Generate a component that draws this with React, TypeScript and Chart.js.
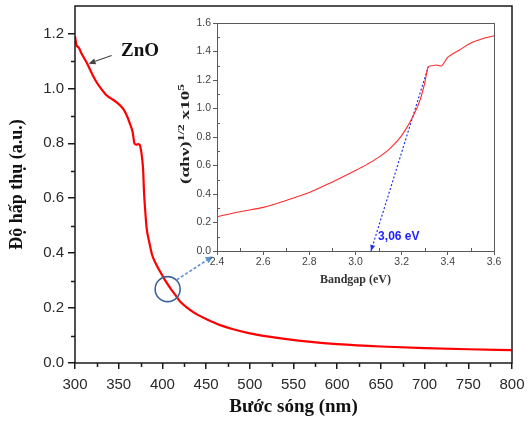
import React, { useEffect, useRef } from "react";
import { Chart, registerables } from "chart.js";

Chart.register(...registerables);

// ---------- data ----------
const wavelengthNm = [
  300, 302, 304, 307, 313, 320, 324, 330, 336, 342, 347, 352, 355, 359, 363, 366, 368,
  370, 372, 374, 375.5, 377, 378, 379, 380, 382, 385, 388, 392, 397, 403, 409, 415, 420,
  430, 440, 450, 466, 480, 500, 520, 540, 570, 600, 650, 700, 750, 800,
];
const absorbance = [
  1.19, 1.155, 1.15, 1.13, 1.096, 1.05, 1.026, 0.998, 0.975, 0.962, 0.951, 0.937, 0.926,
  0.903, 0.87, 0.84, 0.8, 0.795, 0.797, 0.795, 0.775, 0.74, 0.7, 0.62, 0.57, 0.49, 0.44,
  0.396, 0.365, 0.335, 0.302, 0.273, 0.247, 0.225, 0.197, 0.176, 0.16, 0.138, 0.124,
  0.108, 0.097, 0.088, 0.077, 0.069, 0.06, 0.054, 0.05, 0.047,
];

const photonEnergyEv = [
  2.4, 2.5, 2.6, 2.7, 2.8, 2.9, 3.0, 3.05, 3.1, 3.15, 3.2, 3.25, 3.28, 3.3, 3.315, 3.33,
  3.35, 3.37, 3.4, 3.45, 3.5, 3.55, 3.6,
];
const taucValue = [
  0.24, 0.276, 0.306, 0.355, 0.41, 0.485, 0.565, 0.608, 0.657, 0.72, 0.81, 0.947, 1.06,
  1.18, 1.29, 1.3, 1.305, 1.298, 1.36, 1.41, 1.46, 1.49, 1.51,
];
const fitLineEv = [3.067, 3.316];
const fitLineValue = [0, 1.296];

const mainXTicks = [300, 350, 400, 450, 500, 550, 600, 650, 700, 750, 800];
const mainXMinor = [325, 375, 425, 475, 525, 575, 625, 675, 725, 775];
const mainYTicks = [0, 0.2, 0.4, 0.6, 0.8, 1.0, 1.2];
const mainYMinor = [0.1, 0.3, 0.5, 0.7, 0.9, 1.1];
const insetXTicks = [2.4, 2.6, 2.8, 3.0, 3.2, 3.4, 3.6];
const insetXMinor = [2.5, 2.7, 2.9, 3.1, 3.3, 3.5];
const insetYTicks = [0, 0.2, 0.4, 0.6, 0.8, 1.0, 1.2, 1.4, 1.6];
const insetYMinor = [0.1, 0.3, 0.5, 0.7, 0.9, 1.1, 1.3, 1.5];

const MAIN_X_TITLE = "Bước sóng (nm)";
const MAIN_Y_TITLE = "Độ hấp thụ (a.u.)";
const INSET_X_TITLE = "Bandgap (eV)";
const INSET_Y_TITLE_PARTS = [
  { t: "(αhν)", sup: false },
  { t: "1/2", sup: true },
  { t: " x10", sup: false },
  { t: "5", sup: true },
];
const SAMPLE_LABEL = "ZnO";
const GAP_LABEL = "3,06 eV";

// annotation anchors (data units)
const znoLabelAt = [352.6, 1.117];
const znoArrowFrom = [342, 1.12];
const znoArrowTo = [315.5, 1.09];
const circleAt = [406, 0.269];
const zoomArrowFrom = [416.5, 0.303];
const zoomArrowTo = [457.5, 0.388];
const gapLabelAt = [3.098, 0.098];

const SERIF = '"Liberation Serif", "Times New Roman", serif';
const SANS = '"Liberation Sans", Arial, sans-serif';

function drawArrow(
  ctx: CanvasRenderingContext2D,
  x0: number, y0: number, x1: number, y1: number,
  color: string, width: number, dash: number[], headLen: number, headW: number
) {
  const dx = x1 - x0, dy = y1 - y0;
  const len = Math.hypot(dx, dy);
  const ux = dx / len, uy = dy / len;
  const bx = x1 - ux * headLen, by = y1 - uy * headLen;
  ctx.save();
  ctx.strokeStyle = color;
  ctx.fillStyle = color;
  ctx.lineWidth = width;
  ctx.setLineDash(dash);
  ctx.beginPath();
  ctx.moveTo(x0, y0);
  ctx.lineTo(bx, by);
  ctx.stroke();
  ctx.setLineDash([]);
  ctx.beginPath();
  ctx.moveTo(x1, y1);
  ctx.lineTo(bx - uy * headW, by + ux * headW);
  ctx.lineTo(bx + uy * headW, by - ux * headW);
  ctx.closePath();
  ctx.fill();
  ctx.restore();
}

function minorTicks(chart: any, xs: number[], ys: number[], len: number, inward: boolean, color: string, width: number) {
  const { ctx, chartArea: a, scales } = chart;
  ctx.save();
  ctx.strokeStyle = color;
  ctx.lineWidth = width;
  ctx.beginPath();
  xs.forEach((v) => {
    const px = Math.round(scales.x.getPixelForValue(v)) + 0.5;
    ctx.moveTo(px, a.bottom);
    ctx.lineTo(px, inward ? a.bottom - len : a.bottom + len);
  });
  ys.forEach((v) => {
    const py = Math.round(scales.y.getPixelForValue(v)) + 0.5;
    ctx.moveTo(a.left, py);
    ctx.lineTo(inward ? a.left + len : a.left - len, py);
  });
  ctx.stroke();
  ctx.restore();
}

const mainDecor = {
  id: "mainDecor",
  afterDraw(chart: any) {
    const { ctx, chartArea: a, scales } = chart;
    const X = (v: number) => scales.x.getPixelForValue(v);
    const Y = (v: number) => scales.y.getPixelForValue(v);
    ctx.save();
    ctx.strokeStyle = "#1a1a1a";
    ctx.lineWidth = 1.5;
    ctx.strokeRect(a.left, a.top, a.right - a.left, a.bottom - a.top);
    ctx.restore();
    minorTicks(chart, mainXMinor, mainYMinor, 4, false, "#1a1a1a", 1.5);

    ctx.save();
    ctx.font = `bold 19px ${SERIF}`;
    ctx.fillStyle = "#111";
    ctx.textAlign = "left";
    ctx.textBaseline = "alphabetic";
    ctx.fillText(SAMPLE_LABEL, X(znoLabelAt[0]), Y(znoLabelAt[1]));
    ctx.restore();
    drawArrow(ctx, X(znoArrowFrom[0]), Y(znoArrowFrom[1]), X(znoArrowTo[0]), Y(znoArrowTo[1]), "#444", 1.1, [], 7, 3);

    ctx.save();
    ctx.strokeStyle = "#3d6293";
    ctx.lineWidth = 1.6;
    ctx.beginPath();
    ctx.arc(X(circleAt[0]), Y(circleAt[1]), 12.5, 0, Math.PI * 2);
    ctx.stroke();
    ctx.restore();
    drawArrow(ctx, X(zoomArrowFrom[0]), Y(zoomArrowFrom[1]), X(zoomArrowTo[0]), Y(zoomArrowTo[1]), "#5b8fd6", 1.6, [3, 2], 7, 3.5);
  },
};

const insetDecor = {
  id: "insetDecor",
  afterDraw(chart: any) {
    const { ctx, chartArea: a, scales } = chart;
    const X = (v: number) => scales.x.getPixelForValue(v);
    const Y = (v: number) => scales.y.getPixelForValue(v);
    ctx.save();
    ctx.strokeStyle = "#5a5a5a";
    ctx.lineWidth = 1;
    ctx.strokeRect(a.left + 0.5, a.top + 0.5, a.right - a.left, a.bottom - a.top);
    ctx.restore();
    minorTicks(chart, insetXMinor, insetYMinor, 3, true, "#5a5a5a", 1);

    // arrow head at the bottom of the fit line
    const x0 = X(fitLineEv[1]), y0 = Y(fitLineValue[1]);
    const x1 = X(fitLineEv[0]), y1 = Y(fitLineValue[0]);
    const len = Math.hypot(x1 - x0, y1 - y0);
    const ux = (x1 - x0) / len, uy = (y1 - y0) / len;
    const bx = x1 - ux * 6, by = y1 - uy * 6;
    ctx.save();
    ctx.fillStyle = "#2233ee";
    ctx.beginPath();
    ctx.moveTo(x1, y1);
    ctx.lineTo(bx - uy * 2.5, by + ux * 2.5);
    ctx.lineTo(bx + uy * 2.5, by - ux * 2.5);
    ctx.closePath();
    ctx.fill();

    ctx.font = `bold 12px ${SANS}`;
    ctx.fillStyle = "#1f1fff";
    ctx.textAlign = "left";
    ctx.textBaseline = "middle";
    ctx.fillText(GAP_LABEL, X(gapLabelAt[0]), Y(gapLabelAt[1]));
    ctx.restore();

    // rotated y title with superscripts
    ctx.save();
    const cy = (a.top + a.bottom) / 2 - 3;
    ctx.translate(16, cy);
    ctx.rotate(-Math.PI / 2);
    const big = `bold 13px ${SERIF}`;
    const small = `bold 9px ${SERIF}`;
    let total = 0;
    INSET_Y_TITLE_PARTS.forEach((p) => {
      ctx.font = p.sup ? small : big;
      total += ctx.measureText(p.t).width;
    });
    const stretch = 100 / total;
    ctx.scale(stretch, 1);
    let cx = -total / 2;
    ctx.fillStyle = "#222";
    ctx.textBaseline = "middle";
    ctx.textAlign = "left";
    INSET_Y_TITLE_PARTS.forEach((p) => {
      ctx.font = p.sup ? small : big;
      ctx.fillText(p.t, cx, p.sup ? -4.5 : 0);
      cx += ctx.measureText(p.t).width;
    });
    ctx.restore();
  },
};

export default function App() {
  const mainRef = useRef<HTMLCanvasElement | null>(null);
  const insetRef = useRef<HTMLCanvasElement | null>(null);

  useEffect(() => {
    const main = new Chart(mainRef.current as HTMLCanvasElement, {
      type: "line",
      data: {
        datasets: [
          {
            data: wavelengthNm.map((x, i) => ({ x, y: absorbance[i] })),
            borderColor: "#ff0000",
            borderWidth: 2.2,
            pointRadius: 0,
            cubicInterpolationMode: "monotone",
            fill: false,
          },
        ],
      },
      options: {
        responsive: false,
        animation: false,
        devicePixelRatio: 1,
        layout: { padding: { top: 6, right: 15, bottom: 0, left: 0 } },
        plugins: { legend: { display: false }, tooltip: { enabled: false } },
        scales: {
          x: {
            type: "linear",
            min: 300,
            max: 800,
            afterBuildTicks: (s: any) => {
              s.ticks = mainXTicks.map((value) => ({ value }));
            },
            afterFit: (s: any) => {
              s.height = 58;
              s.paddingLeft = 0;
              s.paddingRight = 0;
            },
            grid: { drawOnChartArea: false, drawTicks: true, tickLength: 6, tickColor: "#1a1a1a", tickWidth: 1.5, lineWidth: 1.5 },
            border: { display: false },
            ticks: {
              font: { family: SANS, size: 15 },
              color: "#2a2a2a",
              padding: 7,
              maxRotation: 0,
              autoSkip: false,
              callback: (v: any) => String(v),
            },
            title: {
              display: true,
              text: MAIN_X_TITLE,
              font: { family: SERIF, size: 19, weight: "bold" },
              color: "#111",
              padding: { top: 0, bottom: 3 },
            },
          },
          y: {
            type: "linear",
            min: 0,
            max: 1.3,
            afterBuildTicks: (s: any) => {
              s.ticks = mainYTicks.map((value) => ({ value }));
            },
            afterFit: (s: any) => {
              s.width = 75;
              s.paddingTop = 0;
              s.paddingBottom = 0;
            },
            grid: { drawOnChartArea: false, drawTicks: true, tickLength: 7, tickColor: "#1a1a1a", tickWidth: 1.5, lineWidth: 1.5 },
            border: { display: false },
            ticks: {
              font: { family: SANS, size: 15 },
              color: "#2a2a2a",
              padding: 4,
              autoSkip: false,
              callback: (v: any) => Number(v).toFixed(1),
            },
            title: {
              display: true,
              text: MAIN_Y_TITLE,
              font: { family: SERIF, size: 18, weight: "bold" },
              color: "#111",
              padding: { top: 7, bottom: 0 },
            },
          },
        },
      },
      plugins: [mainDecor],
    } as any);

    const inset = new Chart(insetRef.current as HTMLCanvasElement, {
      type: "line",
      data: {
        datasets: [
          {
            data: photonEnergyEv.map((x, i) => ({ x, y: taucValue[i] })),
            borderColor: "#ff2a2a",
            borderWidth: 1.1,
            pointRadius: 0,
            cubicInterpolationMode: "monotone",
            fill: false,
          },
          {
            data: fitLineEv.map((x, i) => ({ x, y: fitLineValue[i] })),
            borderColor: "#2233ee",
            borderWidth: 1.2,
            borderDash: [2, 2],
            pointRadius: 0,
            fill: false,
          },
        ],
      },
      options: {
        responsive: false,
        animation: false,
        devicePixelRatio: 1,
        layout: { padding: { top: 15, right: 16, bottom: 0, left: 0 } },
        plugins: { legend: { display: false }, tooltip: { enabled: false } },
        scales: {
          x: {
            type: "linear",
            min: 2.4,
            max: 3.6,
            afterBuildTicks: (s: any) => {
              s.ticks = insetXTicks.map((value) => ({ value }));
            },
            afterFit: (s: any) => {
              s.height = 47;
              s.paddingLeft = 0;
              s.paddingRight = 0;
            },
            grid: { drawOnChartArea: false, drawTicks: true, tickLength: 4, tickColor: "#5a5a5a", tickWidth: 1, lineWidth: 1 },
            border: { display: false },
            ticks: {
              font: { family: SANS, size: 10.5 },
              color: "#444",
              padding: 1,
              maxRotation: 0,
              autoSkip: false,
              callback: (v: any) => Number(v).toFixed(1),
            },
            title: {
              display: true,
              text: INSET_X_TITLE,
              font: { family: SERIF, size: 12, weight: "bold" },
              color: "#333",
              padding: { top: 0, bottom: 10.8 },
            },
          },
          y: {
            type: "linear",
            min: 0,
            max: 1.6,
            afterBuildTicks: (s: any) => {
              s.ticks = insetYTicks.map((value) => ({ value }));
            },
            afterFit: (s: any) => {
              s.width = 47;
              s.paddingTop = 0;
              s.paddingBottom = 0;
            },
            grid: { drawOnChartArea: false, drawTicks: true, tickLength: 4, tickColor: "#5a5a5a", tickWidth: 1, lineWidth: 1 },
            border: { display: false },
            ticks: {
              font: { family: SANS, size: 10.5 },
              color: "#444",
              padding: 2,
              autoSkip: false,
              callback: (v: any) => Number(v).toFixed(1),
            },
          },
        },
      },
      plugins: [insetDecor],
    } as any);

    return () => {
      main.destroy();
      inset.destroy();
    };
  }, []);

  return (
    <div style={{ position: "fixed", left: 0, top: 0, width: 527, height: 421, background: "#fff" }}>
      <canvas ref={mainRef} width={527} height={421} style={{ position: "absolute", left: 0, top: 0, width: 527, height: 421 }} />
      <canvas ref={insetRef} width={340} height={290} style={{ position: "absolute", left: 170, top: 8, width: 340, height: 290 }} />
    </div>
  );
}
